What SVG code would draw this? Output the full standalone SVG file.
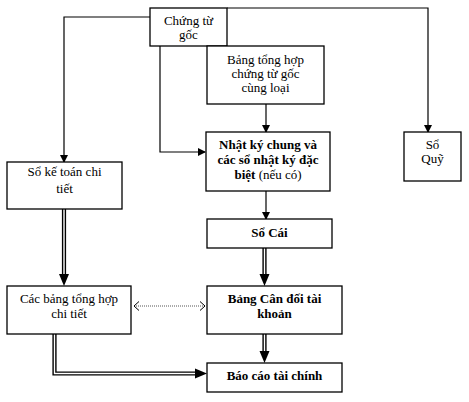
<svg xmlns="http://www.w3.org/2000/svg" width="469" height="402" viewBox="0 0 469 402" font-family="'Liberation Serif', 'Times New Roman', Times, serif" font-size="13">
<defs>
<style>
.box{fill:#fff;stroke:#000;stroke-width:1.3}
text{font-family:'Liberation Serif','Times New Roman',Times,serif;font-size:13px;fill:#000;text-anchor:middle}
.b{font-weight:bold}
.ln{fill:none;stroke:#000;stroke-width:1.2}
.dbl{fill:none;stroke:#000;stroke-width:4.2;stroke-linejoin:miter}
.dbi{fill:none;stroke:#fff;stroke-width:1.4;stroke-linejoin:miter}
.dot{fill:none;stroke:#555;stroke-width:1;stroke-dasharray:1 1}
.chev{fill:none;stroke:#000;stroke-width:1}
</style>
<marker id="ah" markerWidth="8" markerHeight="8" refX="7" refY="4" orient="auto" markerUnits="userSpaceOnUse">
<path d="M0,0 L8,4 L0,8 Z" fill="#000"/>
</marker>
</defs>
<rect width="469" height="402" fill="#fff"/>
<g id="connectors">
<path class="ln" d="M150,17 H64 V162" marker-end="url(#ah)"/>
<path class="ln" d="M227,8 H428 V132" marker-end="url(#ah)"/>
<path class="ln" d="M160,46 V152 H205" marker-end="url(#ah)"/>
<path class="ln" d="M266,104 V132" marker-end="url(#ah)"/>
<path class="ln" d="M266,191 V219" marker-end="url(#ah)"/>
<path class="dbl" d="M264.5,248 V275"/><path class="dbi" d="M264.5,248 V275"/>
<polygon points="259.5,274 269.5,274 264.5,286"/>
<path class="dbl" d="M264.5,334 V352"/><path class="dbi" d="M264.5,334 V352"/>
<polygon points="259.5,351 269.5,351 264.5,363"/>
<path class="dbl" d="M64,209 V275"/><path class="dbi" d="M64,209 V275"/>
<polygon points="59,274 69,274 64,286"/>
<path class="dbl" d="M54.5,334 V373.5 H196"/><path class="dbi" d="M54.5,334 V373.5 H196"/>
<polygon points="195,368.5 195,378.5 207,373.5"/>
<line class="dot" x1="134" y1="306" x2="205" y2="306"/>
<path class="chev" d="M139,301.5 L134,306 L139,310.5"/>
<path class="chev" d="M200,301.5 L205,306 L200,310.5"/>
</g>
<g id="chung-tu-goc">
<rect class="box" x="150" y="8" width="77" height="38"/>
<text x="188.5" y="25">Chứng từ</text>
<text x="188.5" y="39">gốc</text>
</g>
<g id="bang-tong-hop-chung-tu">
<rect class="box" x="207" y="46" width="117" height="58"/>
<text x="265.5" y="64">Bảng tổng hợp</text>
<text x="265.5" y="78">chứng từ gốc</text>
<text x="265.5" y="92">cùng loại</text>
</g>
<g id="nhat-ky-chung">
<rect class="box" x="206" y="132" width="124" height="59"/>
<text x="268" y="149" class="b">Nhật ký chung và</text>
<text x="268" y="164" class="b">các sổ nhật ký đặc</text>
<text x="268" y="179"><tspan class="b">biệt</tspan> (nếu có)</text>
</g>
<g id="so-quy">
<rect class="box" x="404" y="132" width="57" height="49"/>
<text x="432.5" y="149">Sổ</text>
<text x="432.5" y="163">Quỹ</text>
</g>
<g id="so-ke-toan-chi-tiet">
<rect class="box" x="7" y="162" width="115" height="47"/>
<text x="64.5" y="176">Sổ kế toán chi</text>
<text x="64.5" y="193">tiết</text>
</g>
<g id="so-cai">
<rect class="box" x="207" y="219" width="125" height="29"/>
<text x="269.5" y="237" class="b">Sổ Cái</text>
</g>
<g id="cac-bang-tong-hop">
<rect class="box" x="7" y="286" width="124" height="48"/>
<text x="69" y="303">Các bảng tổng hợp</text>
<text x="69" y="318">chi tiết</text>
</g>
<g id="bang-can-doi">
<rect class="box" x="207" y="286" width="135" height="48"/>
<text x="274.5" y="303" class="b">Bảng Cân đối tài</text>
<text x="274.5" y="318" class="b">khoản</text>
</g>
<g id="bao-cao-tai-chinh">
<rect class="box" x="207" y="363" width="135" height="29"/>
<text x="274.5" y="380" class="b">Báo cáo tài chính</text>
</g>
</svg>
